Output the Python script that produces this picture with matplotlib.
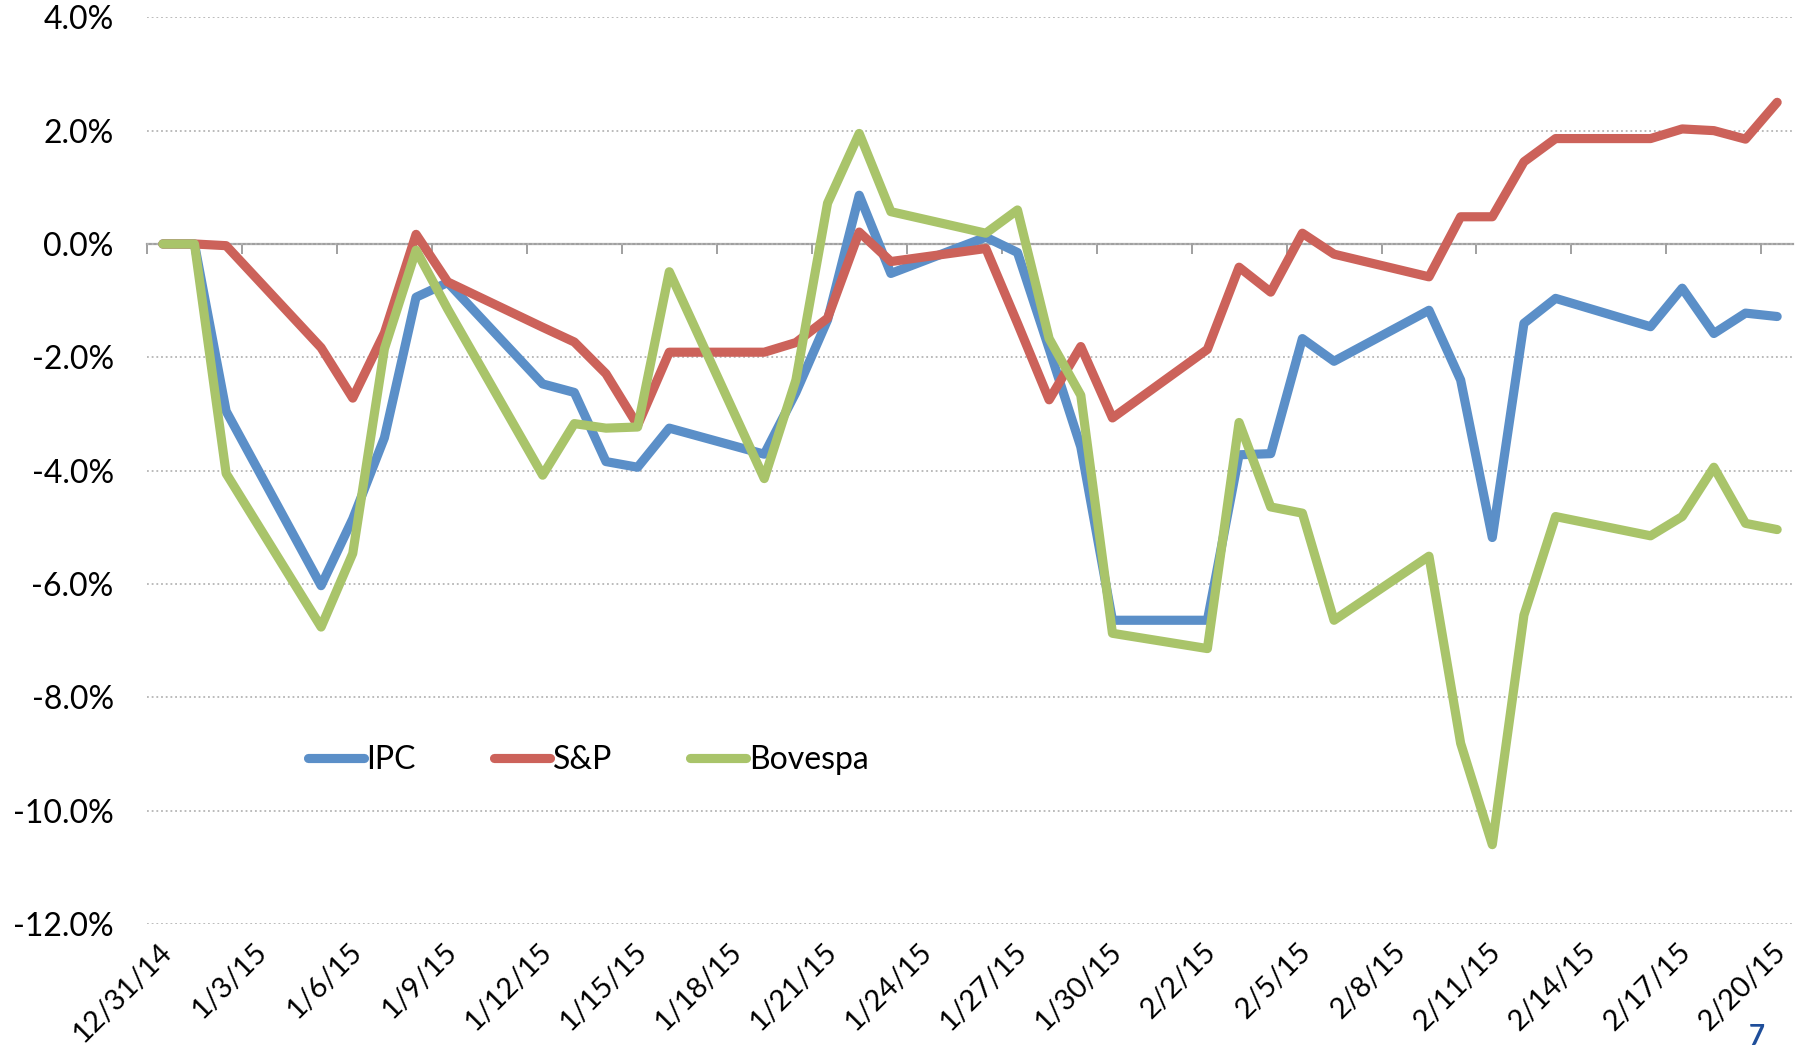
import matplotlib
matplotlib.use("Agg")
import matplotlib.pyplot as plt
import matplotlib.transforms as mtransforms
import pandas as pd

# weekdays from 12/31/14 to 2/20/15 (holidays carry the previous close)
dates = ["2014-12-31", "2015-01-01", "2015-01-02", "2015-01-05", "2015-01-06",
         "2015-01-07", "2015-01-08", "2015-01-09", "2015-01-12", "2015-01-13",
         "2015-01-14", "2015-01-15", "2015-01-16", "2015-01-19", "2015-01-20",
         "2015-01-21", "2015-01-22", "2015-01-23", "2015-01-26", "2015-01-27",
         "2015-01-28", "2015-01-29", "2015-01-30", "2015-02-02", "2015-02-03",
         "2015-02-04", "2015-02-05", "2015-02-06", "2015-02-09", "2015-02-10",
         "2015-02-11", "2015-02-12", "2015-02-13", "2015-02-16", "2015-02-17",
         "2015-02-18", "2015-02-19", "2015-02-20"]

ipc = [0.0, 0.0, -2.95, -6.03, -4.85, -3.42, -0.94, -0.68, -2.47, -2.62,
       -3.84, -3.94, -3.25, -3.71, -2.62, -1.34, 0.86, -0.52, 0.12, -0.15,
       -1.85, -3.58, -6.64, -6.64, -3.72, -3.70, -1.67, -2.07, -1.17, -2.40,
       -5.18, -1.40, -0.96, -1.46, -0.78, -1.58, -1.22, -1.28]

sp = [0.0, 0.0, -0.03, -1.83, -2.72, -1.57, 0.17, -0.67, -1.47, -1.73,
      -2.29, -3.20, -1.91, -1.91, -1.74, -1.31, 0.21, -0.31, -0.08, -1.40,
      -2.75, -1.81, -3.07, -1.86, -0.41, -0.85, 0.19, -0.18, -0.58, 0.48,
      0.48, 1.45, 1.86, 1.86, 2.03, 2.00, 1.85, 2.50]

bovespa = [0.0, 0.0, -4.05, -6.76, -5.46, -1.85, -0.11, -1.15, -4.08, -3.17,
           -3.25, -3.23, -0.49, -4.14, -2.40, 0.72, 1.95, 0.57, 0.19, 0.60,
           -1.67, -2.67, -6.87, -7.14, -3.15, -4.64, -4.75, -6.64, -5.51, -8.81,
           -10.60, -6.55, -4.81, -5.15, -4.81, -3.94, -4.93, -5.04]

series_names = ["IPC", "S&P", "Bovespa"]
series_colors = ["#5B8FC8", "#CC625A", "#A9C46A"]
y_ticks = [4, 2, 0, -2, -4, -6, -8, -10, -12]

plt.rcParams['font.family'] = ['Lato', 'DejaVu Sans']

x = pd.to_datetime(dates)
half_day = pd.Timedelta(hours=12)
label_days = pd.date_range(x[0], x[-1], freq="3D")

fig = plt.figure(figsize=(18.04, 10.49), dpi=100)
ax = fig.add_axes([147 / 1804, 1 - 924 / 1049, 1646 / 1804, (924 - 17.3) / 1049])

for vals, name, col in zip([ipc, sp, bovespa], series_names, series_colors):
    ax.plot(x, vals, color=col, lw=6.6, label=name,
            solid_capstyle="round", solid_joinstyle="round")

ax.set_xlim(x[0] - half_day, x[-1] + half_day)
ax.set_ylim(-12, 4)
ax.set_yticks(y_ticks)
ax.set_yticklabels([f"{v:.1f}%" for v in y_ticks])
ax.yaxis.grid(True, color="#b5b5b5", lw=1.3, linestyle=(0, (1, 1.6)))
ax.set_axisbelow(True)
for s in ax.spines.values():
    s.set_visible(False)

ax.set_xticks(label_days)
ax.set_xticklabels([f"{d.month}/{d.day}/{d:%y}" for d in label_days],
                   rotation=45, ha="right", va="center", rotation_mode="anchor")
ax.tick_params(axis="x", length=0, pad=17, labelsize=21)
ax.tick_params(axis="y", length=0, pad=24, labelsize=23)
shift = mtransforms.ScaledTranslation(0.05, 0, fig.dpi_scale_trans)
for lbl in ax.get_xticklabels():
    lbl.set_transform(lbl.get_transform() + shift)

# the category axis crossing at 0%, with tick marks between groups of 3 days
zero_axis = ax.secondary_xaxis(0.75)
zero_axis.set_xticks(label_days - half_day)
zero_axis.tick_params(axis="x", direction="in", length=7, width=1.4,
                      color="#a0a0a0", labeltop=False, labelbottom=False)
zero_axis.spines["top"].set_color("#a0a0a0")
zero_axis.spines["top"].set_linewidth(1.6)

ax.legend(loc="center left", bbox_to_anchor=((308 - 147) / 1646, (924 - 760) / 906.7),
          ncol=3, frameon=False, fontsize=23, handlelength=1.75, handletextpad=0.08,
          columnspacing=2.45, borderaxespad=0, borderpad=0)

fig.text(1757 / 1804, 1 - 1045 / 1049, "7", color="#1F4E9A", fontsize=20,
         fontweight="bold", ha="center", va="baseline")

fig.savefig("out.png", dpi=100)
